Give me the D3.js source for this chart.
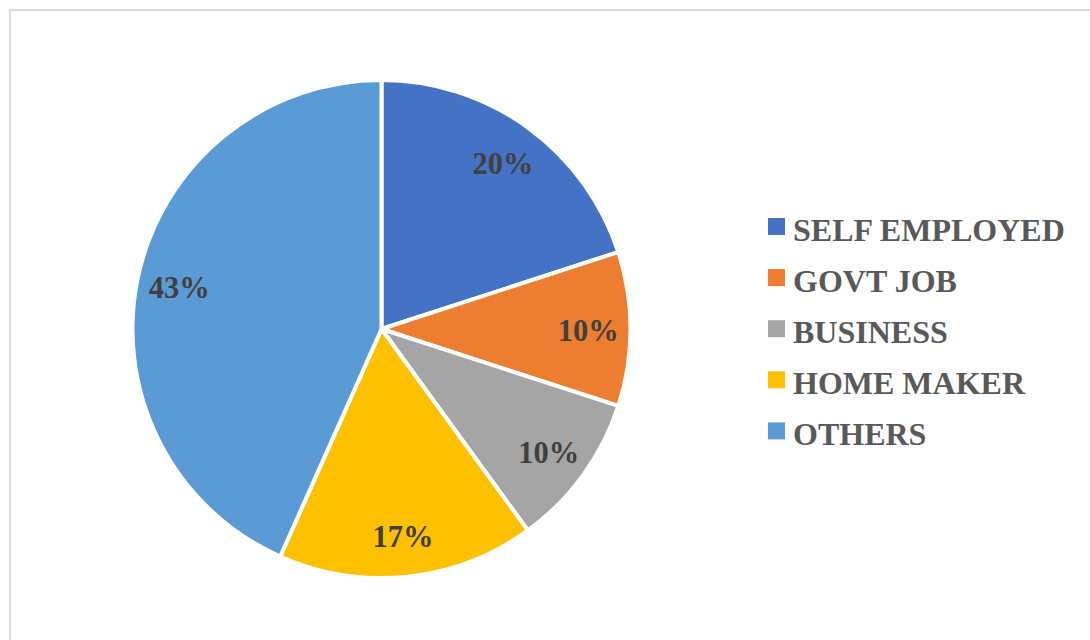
<!DOCTYPE html>
<html>
<head>
<meta charset="utf-8">
<script src="https://cdn.jsdelivr.net/npm/d3@7"></script>
<style>
  html, body { margin: 0; padding: 0; background: #fff; }
  svg { display: block; }
</style>
</head>
<body>
<svg id="chart" width="1090" height="640"></svg>
<script>
// Occupation of respondents (counts)
const categories = ["SELF EMPLOYED", "GOVT JOB", "BUSINESS", "HOME MAKER", "OTHERS"];
const counts = [6, 3, 3, 5, 13];
const colors = ["#4472C4", "#ED7D31", "#A5A5A5", "#FFC000", "#5B9BD5"];

const svg = d3.select("#chart");
const W = 1090, H = 640;

// chart frame
svg.append("rect")
  .attr("x", 10).attr("y", 10)
  .attr("width", W + 20).attr("height", H + 20)
  .attr("fill", "#fff")
  .attr("stroke", "#d9d9d9")
  .attr("stroke-width", 2);

const cx = 381.5, cy = 329, R = 249;
const total = d3.sum(counts);
const data = categories.map((c, i) => ({ name: c, value: counts[i], color: colors[i] }));

const pie = d3.pie().value(d => d.value).sort(null);
const arcs = pie(data);
const arc = d3.arc().innerRadius(0).outerRadius(R);
const labelArc = d3.arc().innerRadius(R * 0.83).outerRadius(R * 0.83);

const g = svg.append("g").attr("transform", `translate(${cx},${cy})`);

g.selectAll("path.slice")
  .data(arcs)
  .join("path")
  .attr("class", "slice")
  .attr("d", arc)
  .attr("fill", d => d.data.color)
  .attr("stroke", "#fff")
  .attr("stroke-width", 4)
  .attr("stroke-linejoin", "round");

const pct = d3.format(".0%");
g.selectAll("text.lbl")
  .data(arcs)
  .join("text")
  .attr("class", "lbl")
  .attr("transform", d => `translate(${labelArc.centroid(d)})`)
  .attr("text-anchor", "middle")
  .attr("dy", "0.4em")
  .attr("font-family", "'Liberation Serif', 'Times New Roman', serif")
  .attr("font-weight", "bold")
  .attr("font-size", 30.5)
  .attr("fill", "#404040")
  .text(d => pct(d.data.value / total));

// legend
const legend = svg.append("g").attr("transform", "translate(768,218)");
const rowH = 51.1;
const item = legend.selectAll("g.item")
  .data(data)
  .join("g")
  .attr("class", "item")
  .attr("transform", (d, i) => `translate(0,${i * rowH})`);

item.append("rect")
  .attr("width", 17).attr("height", 17)
  .attr("fill", d => d.color);

item.append("text")
  .attr("x", 25)
  .attr("y", 23)
  .attr("font-family", "'Liberation Serif', 'Times New Roman', serif")
  .attr("font-weight", "bold")
  .attr("font-size", 32)
  .attr("fill", "#595959")
  .text(d => d.name);
</script>
</body>
</html>
